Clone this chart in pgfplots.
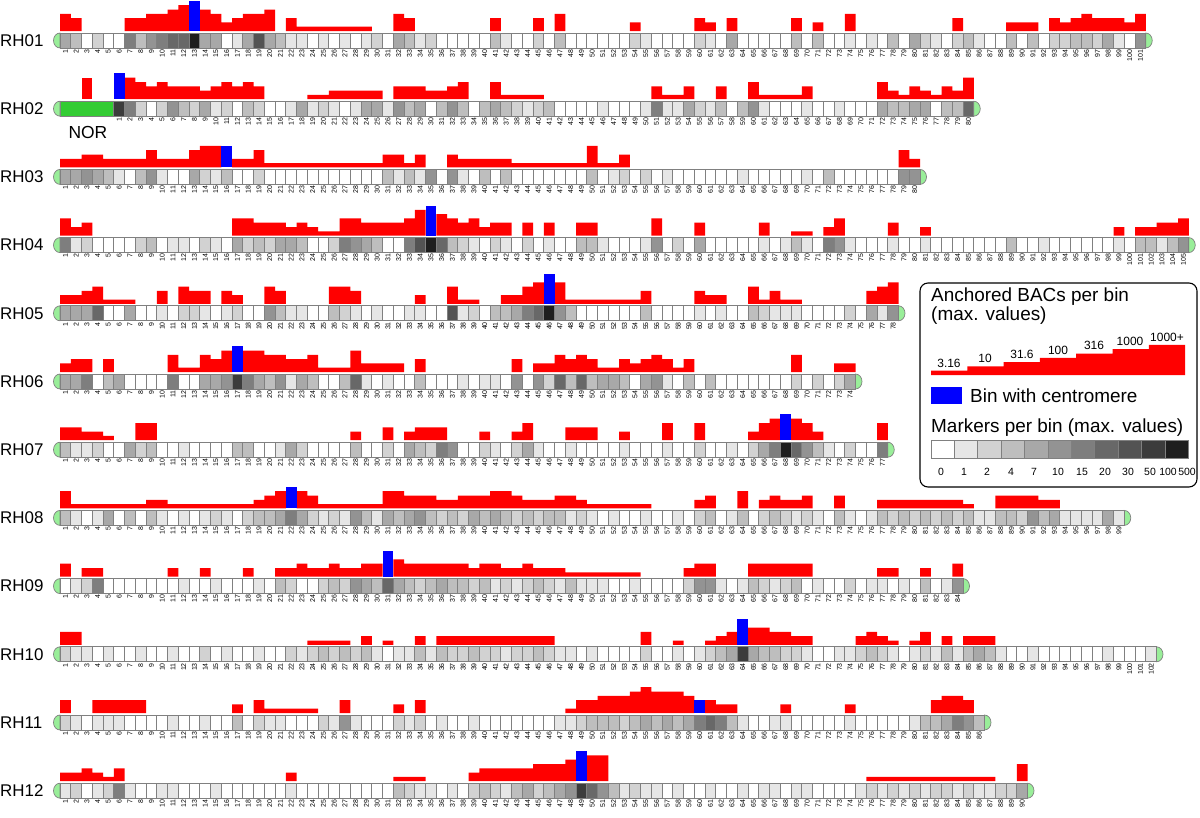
\documentclass[border=0pt]{standalone}
\usepackage{pgfplots}
\usepackage{pgfplotstable}
\pgfplotsset{compat=1.18}
\usepackage{fontspec}
\setmainfont{Liberation Sans}
\definecolor{g0}{HTML}{FFFFFF}\definecolor{g1}{HTML}{E6E6E6}\definecolor{g2}{HTML}{D2D2D2}
\definecolor{g3}{HTML}{BEBEBE}\definecolor{g4}{HTML}{A8A8A8}\definecolor{g5}{HTML}{939393}
\definecolor{g6}{HTML}{7E7E7E}\definecolor{g7}{HTML}{686868}\definecolor{g8}{HTML}{535353}
\definecolor{g9}{HTML}{3C3C3C}\definecolor{g10}{HTML}{1E1E1E}
\definecolor{boxgray}{HTML}{808080}\definecolor{capgreen}{HTML}{99EE99}
\definecolor{norgreen}{HTML}{33CC33}\definecolor{bred}{HTML}{FF0000}\definecolor{bblue}{HTML}{0000FF}
\pgfdeclareplotmark{binbox}{\pgfpathrectangle{\pgfpoint{-5.375bp}{-7.5bp}}{\pgfpoint{10.75bp}{15bp}}\pgfusepathqfillstroke}
\pgfdeclareplotmark{legbox}{\pgfpathrectangle{\pgfpoint{-11.7bp}{-9bp}}{\pgfpoint{23.4bp}{18bp}}\pgfusepathqfillstroke}
\pgfplotsset{
  rowaxis/.style={x=10.75bp, y=1bp, xmin=-6, xmax=107, ymin=-17, ymax=32,
    anchor=south west, clip=false, enlargelimits=false,
    axis line style={draw=none}, major tick length=0pt, ytick=\empty,
    xticklabel style={rotate=90, anchor=east, font=\fontsize{7}{7}\selectfont, inner sep=1.2pt},
    /pgf/number format/assume math mode=true},
  binclasses/.style={scatter/classes={
    0={mark=#1,fill=g0,draw=boxgray},1={mark=#1,fill=g1,draw=boxgray},
    2={mark=#1,fill=g2,draw=boxgray},3={mark=#1,fill=g3,draw=boxgray},
    4={mark=#1,fill=g4,draw=boxgray},5={mark=#1,fill=g5,draw=boxgray},
    6={mark=#1,fill=g6,draw=boxgray},7={mark=#1,fill=g7,draw=boxgray},
    8={mark=#1,fill=g8,draw=boxgray},9={mark=#1,fill=g9,draw=boxgray},
    10={mark=#1,fill=g10,draw=boxgray}}}
}
% s = marker shade class, L = anchored-BAC level (0 = none)
\pgfplotstableread[row sep=\\]{s L\\
4 4\\3 3\\0 0\\2 0\\0 0\\0 0\\6 3\\3 3\\5 4\\6 4\\
7 5\\7 6\\10 0\\4 5\\4 4\\0 2\\1 3\\4 4\\8 4\\4 5\\
3 0\\1 3\\1 1\\0 1\\1 1\\0 1\\1 1\\0 1\\1 1\\2 0\\
0 0\\4 4\\3 3\\1 0\\2 0\\0 0\\0 0\\0 0\\0 0\\0 0\\
3 3\\1 0\\0 0\\0 0\\2 3\\0 0\\3 4\\0 0\\0 0\\0 0\\
0 0\\0 0\\0 0\\2 2\\1 0\\0 0\\0 0\\0 0\\0 0\\2 3\\
1 2\\0 0\\4 3\\0 0\\0 0\\0 0\\0 0\\0 0\\3 3\\0 0\\
3 2\\0 0\\0 0\\1 4\\0 0\\1 0\\0 0\\3 0\\0 0\\4 0\\
2 0\\1 0\\0 0\\2 3\\3 0\\1 0\\0 0\\0 0\\3 2\\0 2\\
3 2\\0 0\\2 3\\2 2\\3 3\\3 4\\2 3\\4 3\\1 3\\0 2\\
5 4\\}\rA
\pgfplotstableread[row sep=\\]{s L\\
9 0\\6 5\\2 4\\0 3\\2 4\\5 3\\3 3\\2 3\\4 2\\1 3\\
2 4\\0 3\\3 4\\2 3\\0 0\\0 0\\1 0\\4 0\\1 1\\2 1\\
1 2\\0 2\\1 2\\4 2\\4 2\\1 0\\5 3\\3 3\\4 3\\0 2\\
3 2\\5 3\\3 4\\0 0\\3 0\\4 4\\3 1\\2 1\\1 1\\2 1\\
3 0\\0 0\\0 0\\0 0\\0 0\\1 0\\0 0\\0 0\\0 0\\1 0\\
6 3\\1 1\\1 1\\4 3\\2 0\\1 0\\3 3\\0 0\\3 0\\5 4\\
1 1\\0 1\\0 1\\0 1\\1 3\\0 0\\0 0\\1 0\\0 0\\0 0\\
0 0\\4 4\\3 2\\3 1\\4 3\\4 2\\0 1\\3 3\\3 2\\7 5\\}\rB
\pgfplotstableread[row sep=\\]{s L\\
4 2\\4 2\\5 3\\4 3\\3 2\\1 2\\0 2\\3 2\\5 4\\1 2\\
0 2\\0 2\\4 4\\2 5\\1 5\\3 0\\0 2\\0 2\\2 4\\0 1\\
0 1\\0 1\\0 1\\0 1\\0 1\\0 1\\0 1\\0 1\\0 1\\0 1\\
3 3\\1 3\\3 1\\1 3\\5 0\\0 0\\5 3\\1 2\\0 2\\3 2\\
0 2\\3 2\\0 1\\0 1\\0 1\\0 1\\0 1\\0 1\\0 1\\3 5\\
0 1\\1 1\\2 3\\0 0\\2 0\\0 0\\1 0\\0 0\\0 0\\0 0\\
0 0\\0 0\\0 0\\1 0\\0 0\\0 0\\0 0\\0 0\\0 0\\1 0\\
0 0\\3 0\\0 0\\0 0\\0 0\\0 0\\0 0\\0 0\\5 4\\5 2\\}\rC
\pgfplotstableread[row sep=\\]{s L\\
6 4\\1 2\\2 3\\0 0\\0 0\\0 0\\0 0\\2 0\\3 0\\0 0\\
1 0\\1 0\\0 0\\2 0\\1 0\\0 0\\4 4\\2 4\\3 3\\2 3\\
4 3\\4 2\\3 3\\0 2\\0 1\\2 1\\6 4\\5 4\\4 3\\3 3\\
0 3\\0 3\\6 4\\8 6\\10 0\\7 5\\3 4\\2 3\\1 4\\0 2\\
2 3\\1 3\\0 0\\2 3\\0 0\\1 3\\0 0\\0 0\\3 3\\3 3\\
1 0\\0 0\\0 0\\0 0\\1 0\\5 4\\0 0\\2 0\\0 0\\4 3\\
0 0\\0 0\\0 0\\0 0\\0 0\\1 3\\0 0\\1 0\\3 1\\1 1\\
0 0\\6 2\\5 4\\1 0\\0 0\\0 0\\0 0\\1 3\\0 0\\0 0\\
1 2\\0 0\\0 0\\0 0\\0 0\\0 0\\0 0\\0 0\\3 0\\0 0\\
0 0\\1 0\\0 0\\0 0\\0 0\\0 0\\0 0\\0 0\\1 2\\0 0\\
3 2\\3 2\\1 3\\3 3\\5 4\\}\rD
\pgfplotstableread[row sep=\\]{s L\\
4 2\\4 2\\4 3\\7 4\\0 1\\0 1\\4 1\\0 0\\0 0\\1 3\\
0 0\\2 4\\2 3\\1 3\\0 0\\1 3\\2 2\\0 0\\0 0\\5 4\\
3 3\\1 0\\1 0\\0 0\\0 0\\3 4\\2 4\\1 3\\0 0\\1 0\\
0 0\\0 0\\1 0\\1 2\\0 0\\0 0\\8 4\\1 1\\2 1\\0 0\\
3 0\\3 2\\4 2\\6 4\\7 5\\10 0\\5 5\\3 1\\0 1\\0 1\\
0 1\\0 1\\0 1\\0 1\\3 3\\0 0\\0 0\\0 0\\0 0\\1 3\\
0 2\\1 2\\0 0\\0 0\\3 4\\2 1\\1 3\\1 1\\1 1\\0 0\\
0 0\\0 0\\0 0\\2 0\\0 0\\4 3\\1 4\\5 5\\}\rE
\pgfplotstableread[row sep=\\]{s L\\
4 2\\4 3\\6 3\\0 0\\3 3\\4 0\\0 0\\0 0\\0 0\\0 0\\
6 4\\0 1\\0 1\\4 4\\4 3\\5 5\\9 0\\6 5\\4 5\\3 4\\
5 4\\1 3\\4 3\\3 4\\0 1\\0 1\\3 1\\7 5\\1 2\\0 2\\
1 2\\0 2\\0 0\\3 3\\0 0\\0 0\\0 0\\1 0\\0 0\\1 0\\
1 0\\0 0\\5 3\\0 0\\5 2\\2 2\\7 4\\3 3\\7 4\\3 3\\
4 1\\4 1\\3 3\\0 2\\4 3\\5 4\\1 3\\0 1\\3 3\\0 0\\
3 0\\0 0\\0 0\\0 0\\0 0\\0 0\\0 0\\0 0\\2 4\\0 0\\
2 0\\0 0\\2 2\\4 2\\}\rF
\pgfplotstableread[row sep=\\]{s L\\
3 3\\1 3\\1 2\\2 2\\0 1\\0 0\\4 0\\2 4\\3 4\\0 0\\
0 0\\1 0\\0 0\\0 0\\0 0\\0 0\\3 0\\3 0\\0 0\\0 0\\
1 0\\4 0\\2 0\\0 0\\0 0\\0 0\\0 0\\3 2\\0 0\\0 0\\
2 3\\0 0\\4 2\\3 3\\2 3\\6 3\\5 0\\0 0\\0 0\\2 2\\
1 0\\0 0\\2 2\\4 4\\1 0\\0 0\\0 0\\1 3\\0 3\\0 3\\
0 0\\0 0\\1 2\\0 0\\0 0\\0 0\\1 4\\0 0\\0 0\\2 4\\
0 0\\0 0\\1 0\\0 0\\2 2\\4 4\\6 5\\10 0\\7 5\\5 4\\
3 2\\1 0\\0 0\\2 0\\0 0\\0 0\\6 4\\}\rG
\pgfplotstableread[row sep=\\]{s L\\
3 4\\1 1\\0 1\\1 1\\4 1\\0 1\\3 1\\0 1\\3 2\\1 2\\
0 1\\1 1\\0 1\\1 1\\2 1\\1 1\\0 1\\2 1\\3 2\\3 3\\
4 4\\6 0\\4 4\\2 3\\1 1\\2 1\\1 1\\5 1\\3 1\\1 1\\
4 4\\3 4\\4 3\\5 3\\3 3\\2 2\\3 2\\2 3\\4 3\\3 3\\
4 4\\3 4\\2 3\\3 2\\2 2\\3 2\\3 3\\1 3\\2 2\\1 1\\
0 1\\1 1\\0 1\\0 1\\1 1\\0 0\\0 0\\1 0\\0 0\\2 2\\
3 3\\0 0\\1 0\\3 4\\0 0\\2 2\\3 3\\2 2\\1 2\\2 3\\
1 0\\0 0\\3 3\\1 0\\0 0\\1 0\\3 2\\2 2\\3 2\\2 2\\
3 2\\2 2\\3 2\\2 2\\3 1\\1 0\\1 0\\3 3\\3 3\\2 3\\
5 3\\3 2\\4 2\\1 0\\1 0\\1 0\\1 0\\4 0\\1 0\\}\rH
\pgfplotstableread[row sep=\\]{s L\\
0 3\\1 0\\2 2\\6 2\\0 0\\0 0\\0 0\\0 0\\0 0\\0 0\\
0 2\\1 0\\0 0\\0 2\\1 0\\0 0\\0 0\\0 2\\1 0\\0 0\\
3 2\\2 2\\0 3\\0 2\\2 2\\3 3\\2 2\\5 2\\4 3\\3 3\\
7 0\\4 4\\3 3\\2 3\\3 3\\4 3\\3 3\\3 3\\2 2\\3 3\\
1 3\\2 2\\1 2\\2 3\\3 2\\2 2\\1 2\\3 1\\1 1\\1 1\\
1 1\\0 1\\0 1\\1 1\\0 0\\0 0\\0 0\\0 0\\2 2\\5 3\\
5 3\\1 0\\0 0\\1 0\\3 3\\2 3\\1 3\\2 3\\3 3\\0 3\\
1 0\\0 0\\0 0\\2 0\\0 0\\1 0\\1 2\\0 2\\1 0\\0 0\\
3 2\\0 0\\1 0\\5 3\\}\rI
\pgfplotstableread[row sep=\\]{s L\\
2 3\\1 3\\1 0\\0 0\\1 0\\0 0\\0 0\\1 0\\0 0\\0 0\\
1 0\\0 0\\0 0\\2 0\\0 0\\1 0\\0 0\\0 0\\1 0\\0 0\\
0 0\\2 0\\1 0\\2 1\\3 1\\2 1\\3 1\\2 0\\3 2\\1 0\\
0 1\\1 0\\1 0\\3 2\\1 0\\3 2\\2 2\\2 2\\3 2\\2 2\\
2 2\\1 2\\2 2\\2 2\\3 2\\2 2\\1 0\\1 0\\0 0\\1 0\\
0 0\\0 0\\0 0\\0 0\\2 3\\0 0\\0 0\\1 1\\0 0\\1 0\\
2 1\\3 2\\4 3\\9 0\\4 4\\3 4\\3 3\\2 3\\2 2\\1 2\\
0 0\\0 0\\1 0\\1 0\\2 2\\3 3\\2 2\\1 1\\0 0\\1 1\\
2 3\\1 0\\3 2\\1 0\\3 2\\4 2\\3 2\\1 0\\0 0\\0 0\\
1 0\\0 0\\0 0\\0 0\\0 0\\0 0\\0 0\\1 0\\0 0\\0 0\\
0 0\\1 0\\}\rJ
\pgfplotstableread[row sep=\\]{s L\\
2 3\\1 0\\0 0\\1 3\\1 3\\1 3\\0 3\\0 3\\0 0\\0 0\\
1 0\\0 0\\0 0\\1 0\\0 0\\0 0\\3 2\\0 0\\2 3\\1 1\\
1 1\\0 1\\0 1\\0 1\\2 0\\1 0\\5 3\\1 0\\0 0\\0 0\\
0 0\\2 2\\1 0\\2 3\\0 0\\1 0\\0 0\\0 0\\1 0\\0 0\\
0 0\\0 0\\0 0\\0 0\\0 0\\0 0\\1 0\\1 1\\2 3\\3 3\\
3 4\\3 4\\2 4\\3 5\\4 6\\3 5\\4 5\\3 5\\4 4\\6 0\\
7 3\\6 2\\3 2\\1 0\\0 0\\0 0\\1 0\\1 2\\0 0\\0 0\\
0 0\\0 0\\0 0\\1 2\\0 0\\0 0\\0 0\\0 0\\0 0\\1 0\\
3 0\\3 3\\4 4\\6 4\\5 3\\3 0\\}\rK
\pgfplotstableread[row sep=\\]{s L\\
1 2\\2 2\\0 3\\1 2\\2 1\\6 3\\1 0\\0 0\\0 0\\1 0\\
1 0\\0 0\\0 0\\0 0\\1 0\\0 0\\0 0\\0 0\\0 0\\0 0\\
0 0\\1 2\\0 0\\0 0\\0 0\\0 0\\0 0\\0 0\\0 0\\0 0\\
0 0\\3 1\\2 1\\1 1\\1 0\\0 0\\1 0\\0 0\\2 2\\3 3\\
2 3\\1 3\\3 3\\4 3\\2 4\\3 4\\4 4\\5 5\\9 0\\7 6\\
5 6\\3 0\\1 0\\2 0\\1 0\\1 0\\0 0\\1 0\\0 0\\0 0\\
1 0\\0 0\\0 0\\1 0\\0 0\\1 0\\1 0\\0 0\\1 0\\1 0\\
0 0\\0 0\\0 0\\0 0\\1 0\\2 1\\1 1\\2 1\\1 1\\2 1\\
1 1\\2 1\\2 1\\1 1\\2 1\\1 1\\1 1\\2 0\\2 0\\4 4\\}\rL

% #1 x of coordinate 0 (px), #2 baseline (px from top), #3 bins, #4 table, #5 name,
% #6 centromere bin, #7 its level, #8 left end of chromosome, #9 extra
\newcommand{\chrom}[9]{%
\begin{axis}[rowaxis, at={({(#1-64.5)*1bp},{-(#2+17)*1bp})}, xtick={1,...,#3}]
#9
\addplot[ybar, bar width=1, bar shift=0pt, fill=bred, draw=none, restrict y to domain=0.5:100]
  table[x expr=\coordindex+1, y expr=4.3*\thisrow{L}] {#4};
\addplot[ybar, bar width=1, bar shift=0pt, fill=bblue, draw=none]
  table[row sep=\\, x=x, y expr=4.3*\thisrow{L}] {x L\\ #6 #7\\};
\addplot[scatter, only marks, point meta=explicit symbolic, binclasses=binbox, line width=0.7bp]
  table[x expr=\coordindex+1, y expr=-9.5, meta=s] {#4};
\draw[fill=capgreen, draw=boxgray, line width=0.7bp] (axis cs:#8,-17)
  arc[start angle=270, end angle=90, x radius=6.5bp, y radius=7.5bp] -- cycle;
\draw[fill=capgreen, draw=boxgray, line width=0.7bp] (axis cs:#3.5,-2)
  arc[start angle=90, end angle=-90, x radius=6.5bp, y radius=7.5bp] -- cycle;
\end{axis}
\node[anchor=west, inner sep=0pt, font=\fontsize{17}{17}\selectfont] at (0bp,{-(#2+9.5)*1bp}) {#5};
}

\begin{document}
\begin{tikzpicture}
\path[use as bounding box] (0,0) rectangle (1200bp,-818bp);
\chrom{54.625}{31}{101}{\rA}{RH01}{13}{7}{0.5}{}
\chrom{108.375}{99.2}{80}{\rB}{RH02}{1}{6}{-4.5}{%
  \draw[fill=norgreen, draw=boxgray, line width=0.7bp] (axis cs:-4.5,-2) rectangle (axis cs:0.5,-17);
  \addplot[ybar, bar width=1, bar shift=0pt, fill=bred, draw=none] coordinates {(-2,21.5)};
  \node[anchor=base, font=\fontsize{17.5}{17.5}\selectfont] at (axis cs:-1.9,-39.3) {NOR};}
\chrom{54.625}{167.4}{80}{\rC}{RH03}{16}{5}{0.5}{}
\chrom{54.625}{235.6}{105}{\rD}{RH04}{35}{7}{0.5}{}
\chrom{54.625}{303.8}{78}{\rE}{RH05}{46}{7}{0.5}{}
\chrom{54.625}{372}{74}{\rF}{RH06}{17}{6}{0.5}{}
\chrom{54.625}{440.2}{77}{\rG}{RH07}{68}{6}{0.5}{}
\chrom{54.625}{508.4}{99}{\rH}{RH08}{22}{5}{0.5}{}
\chrom{54.625}{576.6}{84}{\rI}{RH09}{31}{6}{0.5}{}
\chrom{54.625}{644.8}{102}{\rJ}{RH10}{64}{6}{0.5}{}
\chrom{54.625}{713}{86}{\rK}{RH11}{60}{3}{0.5}{}
\chrom{54.625}{781.2}{90}{\rL}{RH12}{49}{7}{0.5}{}
% legend
\draw[rounded corners=8bp, line width=1.1bp, fill=white] (920bp,-283bp) rectangle (1197bp,-487bp);
\begin{axis}[at={(920bp,-487bp)}, anchor=south west, x=1bp, y=1bp, xmin=920, xmax=1197,
  ymin=-487, ymax=-283, hide axis, clip=false]
\addplot[fill=bred, draw=none] coordinates {(931,-375) (931,-370.7) (967.3,-370.7) (967.3,-366.4)
  (1003.6,-366.4) (1003.6,-362.1) (1039.9,-362.1) (1039.9,-357.8) (1076.2,-357.8) (1076.2,-353.5)
  (1112.5,-353.5) (1112.5,-349.2) (1148.8,-349.2) (1148.8,-344.9) (1185.1,-344.9) (1185.1,-375)} -- cycle;
\addplot[fill=bblue, draw=none] coordinates {(931,-387) (962,-387) (962,-404) (931,-404)} -- cycle;
\addplot[scatter, only marks, point meta=explicit symbolic, binclasses=legbox, line width=0.7bp]
  table[row sep=\\, meta=s] {x y s\\
  942.7 -449 0\\ 966.1 -449 1\\ 989.5 -449 2\\ 1012.9 -449 3\\ 1036.3 -449 4\\ 1059.7 -449 5\\
  1083.1 -449 6\\ 1106.5 -449 7\\ 1129.9 -449 8\\ 1153.3 -449 9\\ 1176.7 -449 10\\};
\end{axis}
\begin{scope}[every node/.style={inner sep=0pt, font=\fontsize{19}{19}\selectfont}]
\node[anchor=west] at (931bp,-297bp) {Anchored BACs per bin};
\node[anchor=west] at (931bp,-316bp) {(max. values)};
\node[anchor=west] at (970bp,-396bp) {Bin with centromere};
\node[anchor=west] at (931bp,-428bp) {Markers per bin (max. values)};
\end{scope}
\begin{scope}[every node/.style={inner sep=0pt, font=\fontsize{12}{12}\selectfont, anchor=base}]
\node at (949bp,-367bp) {3.16};
\node at (985bp,-362bp) {10};
\node at (1022bp,-358bp) {31.6};
\node at (1058bp,-354bp) {100};
\node at (1094bp,-349bp) {316};
\node at (1130bp,-345bp) {1000};
\node at (1167bp,-341bp) {1000+};
\end{scope}
\begin{scope}[every node/.style={inner sep=0pt, font=\fontsize{10.5}{10.5}\selectfont, anchor=base}]
\node at (941bp,-475bp) {0}; \node at (964bp,-475bp) {1}; \node at (987bp,-475bp) {2};
\node at (1011bp,-475bp) {4}; \node at (1034bp,-475bp) {7}; \node at (1058bp,-475bp) {10};
\node at (1082bp,-475bp) {15}; \node at (1105bp,-475bp) {20}; \node at (1128bp,-475bp) {30};
\node at (1150bp,-475bp) {50}; \node at (1168bp,-475bp) {100}; \node at (1187bp,-475bp) {500};
\end{scope}
\end{tikzpicture}
\end{document}
